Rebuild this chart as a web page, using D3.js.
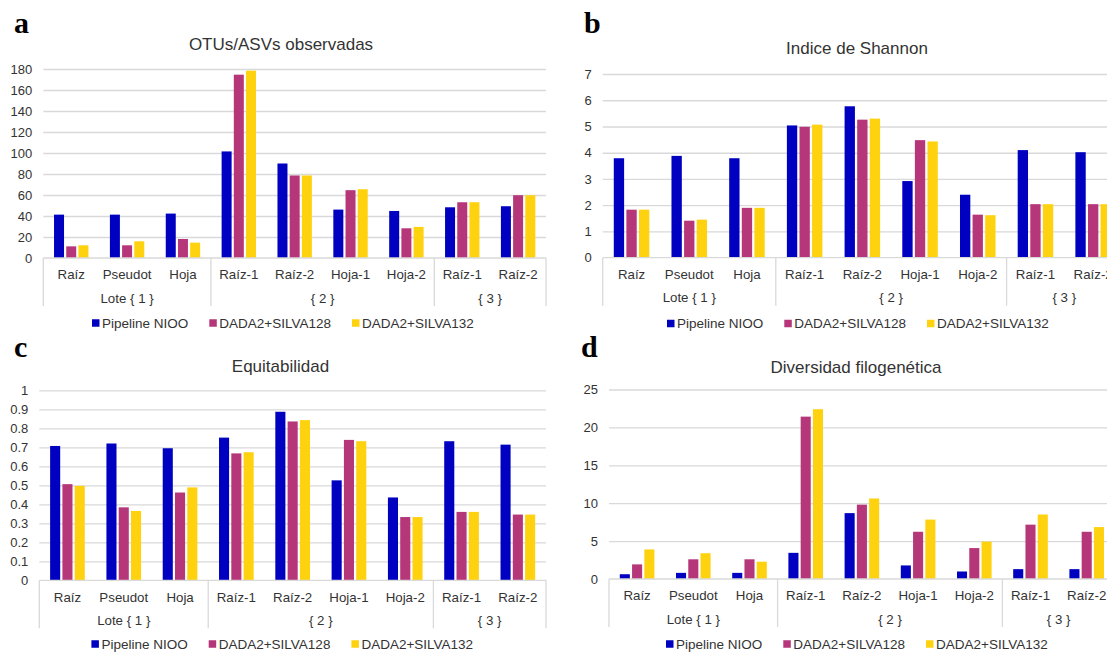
<!DOCTYPE html>
<html>
<head>
<meta charset="utf-8">
<script src="https://cdn.jsdelivr.net/npm/d3@7/dist/d3.min.js"></script>
<style>
  html, body { margin: 0; padding: 0; background: #fff; }
  svg { display: block; font-family: "Liberation Sans", Arial, sans-serif; }
</style>
</head>
<body>
<script>
// Sample categories (inner axis level) and their batches (outer level)
const categories = ["Raíz", "Pseudot", "Hoja", "Raíz-1", "Raíz-2", "Hoja-1", "Hoja-2", "Raíz-1", "Raíz-2"];
const groupLabels = ["Lote { 1 }", "{ 2 }", "{ 3 }"];
const groupSizes = [3, 4, 2];

const seriesNames = ["Pipeline NIOO", "DADA2+SILVA128", "DADA2+SILVA132"];
const seriesColors = ["#0000c0", "#b5377a", "#ffd20f"];

// a: observed OTUs / ASVs
const otusNIOO = [41.3, 41.3, 42.3, 101.5, 90.0, 46.1, 44.8, 48.3, 49.3];
const otusS128 = [11.1, 12.1, 18.1, 174.6, 78.6, 64.6, 28.3, 53.1, 59.8];
const otusS132 = [12.1, 15.9, 14.6, 178.4, 78.6, 65.5, 29.6, 53.1, 59.8];
const otusTicks = [0, 20, 40, 60, 80, 100, 120, 140, 160, 180];

// b: Shannon index
const shannonNIOO = [3.79, 3.88, 3.79, 5.04, 5.77, 2.92, 2.40, 4.10, 4.02];
const shannonS128 = [1.83, 1.41, 1.90, 4.99, 5.26, 4.48, 1.64, 2.04, 2.04];
const shannonS132 = [1.83, 1.45, 1.90, 5.07, 5.30, 4.43, 1.62, 2.04, 2.04];
const shannonTicks = [0, 1, 2, 3, 4, 5, 6, 7];

// c: evenness
const evenNIOO = [0.707, 0.720, 0.695, 0.751, 0.887, 0.526, 0.436, 0.732, 0.714];
const evenS128 = [0.506, 0.384, 0.462, 0.668, 0.836, 0.739, 0.333, 0.360, 0.346];
const evenS132 = [0.497, 0.365, 0.489, 0.674, 0.843, 0.732, 0.333, 0.360, 0.346];
const evenTicks = [0, 0.1, 0.2, 0.3, 0.4, 0.5, 0.6, 0.7, 0.8, 0.9, 1];

// d: phylogenetic diversity
const pdNIOO = [0.63, 0.81, 0.81, 3.45, 8.69, 1.79, 0.99, 1.30, 1.30];
const pdS128 = [1.93, 2.60, 2.60, 21.42, 9.81, 6.23, 4.08, 7.17, 6.23];
const pdS132 = [3.90, 3.40, 2.28, 22.40, 10.62, 7.84, 4.93, 8.51, 6.85];
const pdTicks = [0, 5, 10, 15, 20, 25];

const W = 1107, H = 652;
const TEXT = "#333";
const GRID = "#d9d9d9";

const svg = d3.select("body").append("svg")
  .attr("width", W).attr("height", H)
  .attr("viewBox", `0 0 ${W} ${H}`);
svg.append("rect").attr("width", W).attr("height", H).attr("fill", "#fff");

const panels = [
  { letter: "a", title: "OTUs/ASVs observadas", series: [otusNIOO, otusS128, otusS132], ticks: otusTicks,
    x0: 43.3, catW: 55.86, yTop: 69, yBase: 258,
    letterX: 14, letterY: 33, titleX: 281, titleY: 44.5, legendX: 92, legendY: 323 },
  { letter: "b", title: "Indice de Shannon", series: [shannonNIOO, shannonS128, shannonS132], ticks: shannonTicks,
    x0: 602.7, catW: 57.7, yTop: 74, yBase: 257.7,
    letterX: 584, letterY: 33, titleX: 857, titleY: 48, legendX: 667, legendY: 323.5 },
  { letter: "c", title: "Equitabilidad", series: [evenNIOO, evenS128, evenS132], ticks: evenTicks,
    x0: 39.3, catW: 56.3, yTop: 390.3, yBase: 580.3,
    letterX: 14, letterY: 357, titleX: 280.5, titleY: 366, legendX: 91.4, legendY: 644 },
  { letter: "d", title: "Diversidad filogenética", series: [pdNIOO, pdS128, pdS132], ticks: pdTicks,
    x0: 609, catW: 56.2, yTop: 389.5, yBase: 579,
    letterX: 581, letterY: 356.5, titleX: 856, titleY: 367.3, legendX: 666, legendY: 644 }
];

panels.forEach(p => {
  const g = svg.append("g");
  const x1 = p.x0 + categories.length * p.catW;

  const x = d3.scaleBand().domain(d3.range(categories.length)).range([p.x0, x1]);
  const xSub = d3.scaleBand().domain(d3.range(seriesNames.length))
    .range([0, p.catW]).paddingInner(0.18).paddingOuter(0.88);
  const y = d3.scaleLinear()
    .domain([p.ticks[0], p.ticks[p.ticks.length - 1]])
    .range([p.yBase, p.yTop]);

  // panel letter
  g.append("text")
    .attr("x", p.letterX).attr("y", p.letterY)
    .attr("font-family", "'Liberation Serif', 'Times New Roman', serif")
    .attr("font-weight", "bold").attr("font-size", 30).attr("fill", "#000")
    .text(p.letter);

  // chart title
  g.append("text")
    .attr("x", p.titleX).attr("y", p.titleY)
    .attr("text-anchor", "middle").attr("dominant-baseline", "central")
    .attr("font-size", 17).attr("fill", TEXT)
    .text(p.title);

  // horizontal gridlines
  const grid = g.append("g").attr("transform", `translate(${p.x0},0)`)
    .call(d3.axisLeft(y).tickValues(p.ticks.slice(1)).tickSize(-(x1 - p.x0)).tickFormat(""));
  grid.select(".domain").remove();
  grid.selectAll(".tick line").attr("stroke", GRID).attr("stroke-width", 1.3);

  // value labels
  const yAxis = g.append("g").attr("transform", `translate(${p.x0},0)`)
    .call(d3.axisLeft(y).tickValues(p.ticks).tickSize(0).tickPadding(11).tickFormat(d3.format("~g")));
  yAxis.select(".domain").remove();
  yAxis.selectAll("text").attr("font-size", 13).attr("fill", TEXT)
    .attr("font-family", "'Liberation Sans', Arial, sans-serif");

  // bars
  p.series.forEach((vals, s) => {
    g.append("g").selectAll("rect").data(vals).join("rect")
      .attr("x", (d, i) => x(i) + xSub(s))
      .attr("y", d => y(d))
      .attr("width", xSub.bandwidth())
      .attr("height", d => y(0) - y(d))
      .attr("fill", seriesColors[s]);
  });

  // category axis: baseline plus inner-level labels
  const xAxis = g.append("g").attr("transform", `translate(0,${p.yBase})`)
    .call(d3.axisBottom(x).tickSize(0).tickPadding(12).tickFormat(i => categories[i]));
  xAxis.select(".domain").attr("stroke", GRID).attr("stroke-width", 1.3)
    .attr("d", `M${p.x0},0H${x1}`);
  xAxis.selectAll("text").attr("font-size", 13.3).attr("fill", TEXT)
    .attr("font-family", "'Liberation Sans', Arial, sans-serif");

  // outer-level group separators and labels
  let start = 0;
  const bounds = [0];
  groupSizes.forEach(n => { start += n; bounds.push(start); });
  g.append("g").selectAll("line").data(bounds).join("line")
    .attr("x1", b => p.x0 + b * p.catW).attr("x2", b => p.x0 + b * p.catW)
    .attr("y1", p.yBase).attr("y2", p.yBase + 48)
    .attr("stroke", GRID).attr("stroke-width", 1.3);
  g.append("g").selectAll("text").data(groupLabels).join("text")
    .attr("x", (d, k) => p.x0 + (bounds[k] + bounds[k + 1]) / 2 * p.catW)
    .attr("y", p.yBase + 40)
    .attr("text-anchor", "middle").attr("dominant-baseline", "central")
    .attr("font-size", 13.3).attr("fill", TEXT)
    .text(d => d);

  // legend
  const leg = g.append("g").attr("transform", `translate(${p.legendX},${p.legendY})`);
  let lx = 0;
  seriesNames.forEach((name, s) => {
    leg.append("rect").attr("x", lx).attr("y", -3.75).attr("width", 7.5).attr("height", 7.5)
      .attr("fill", seriesColors[s]);
    const t = leg.append("text").attr("x", lx + 10).attr("y", 0)
      .attr("dominant-baseline", "central")
      .attr("font-size", 13.5).attr("fill", TEXT).text(name);
    lx += 10 + t.node().getComputedTextLength() + 21;
  });
});
</script>
</body>
</html>
